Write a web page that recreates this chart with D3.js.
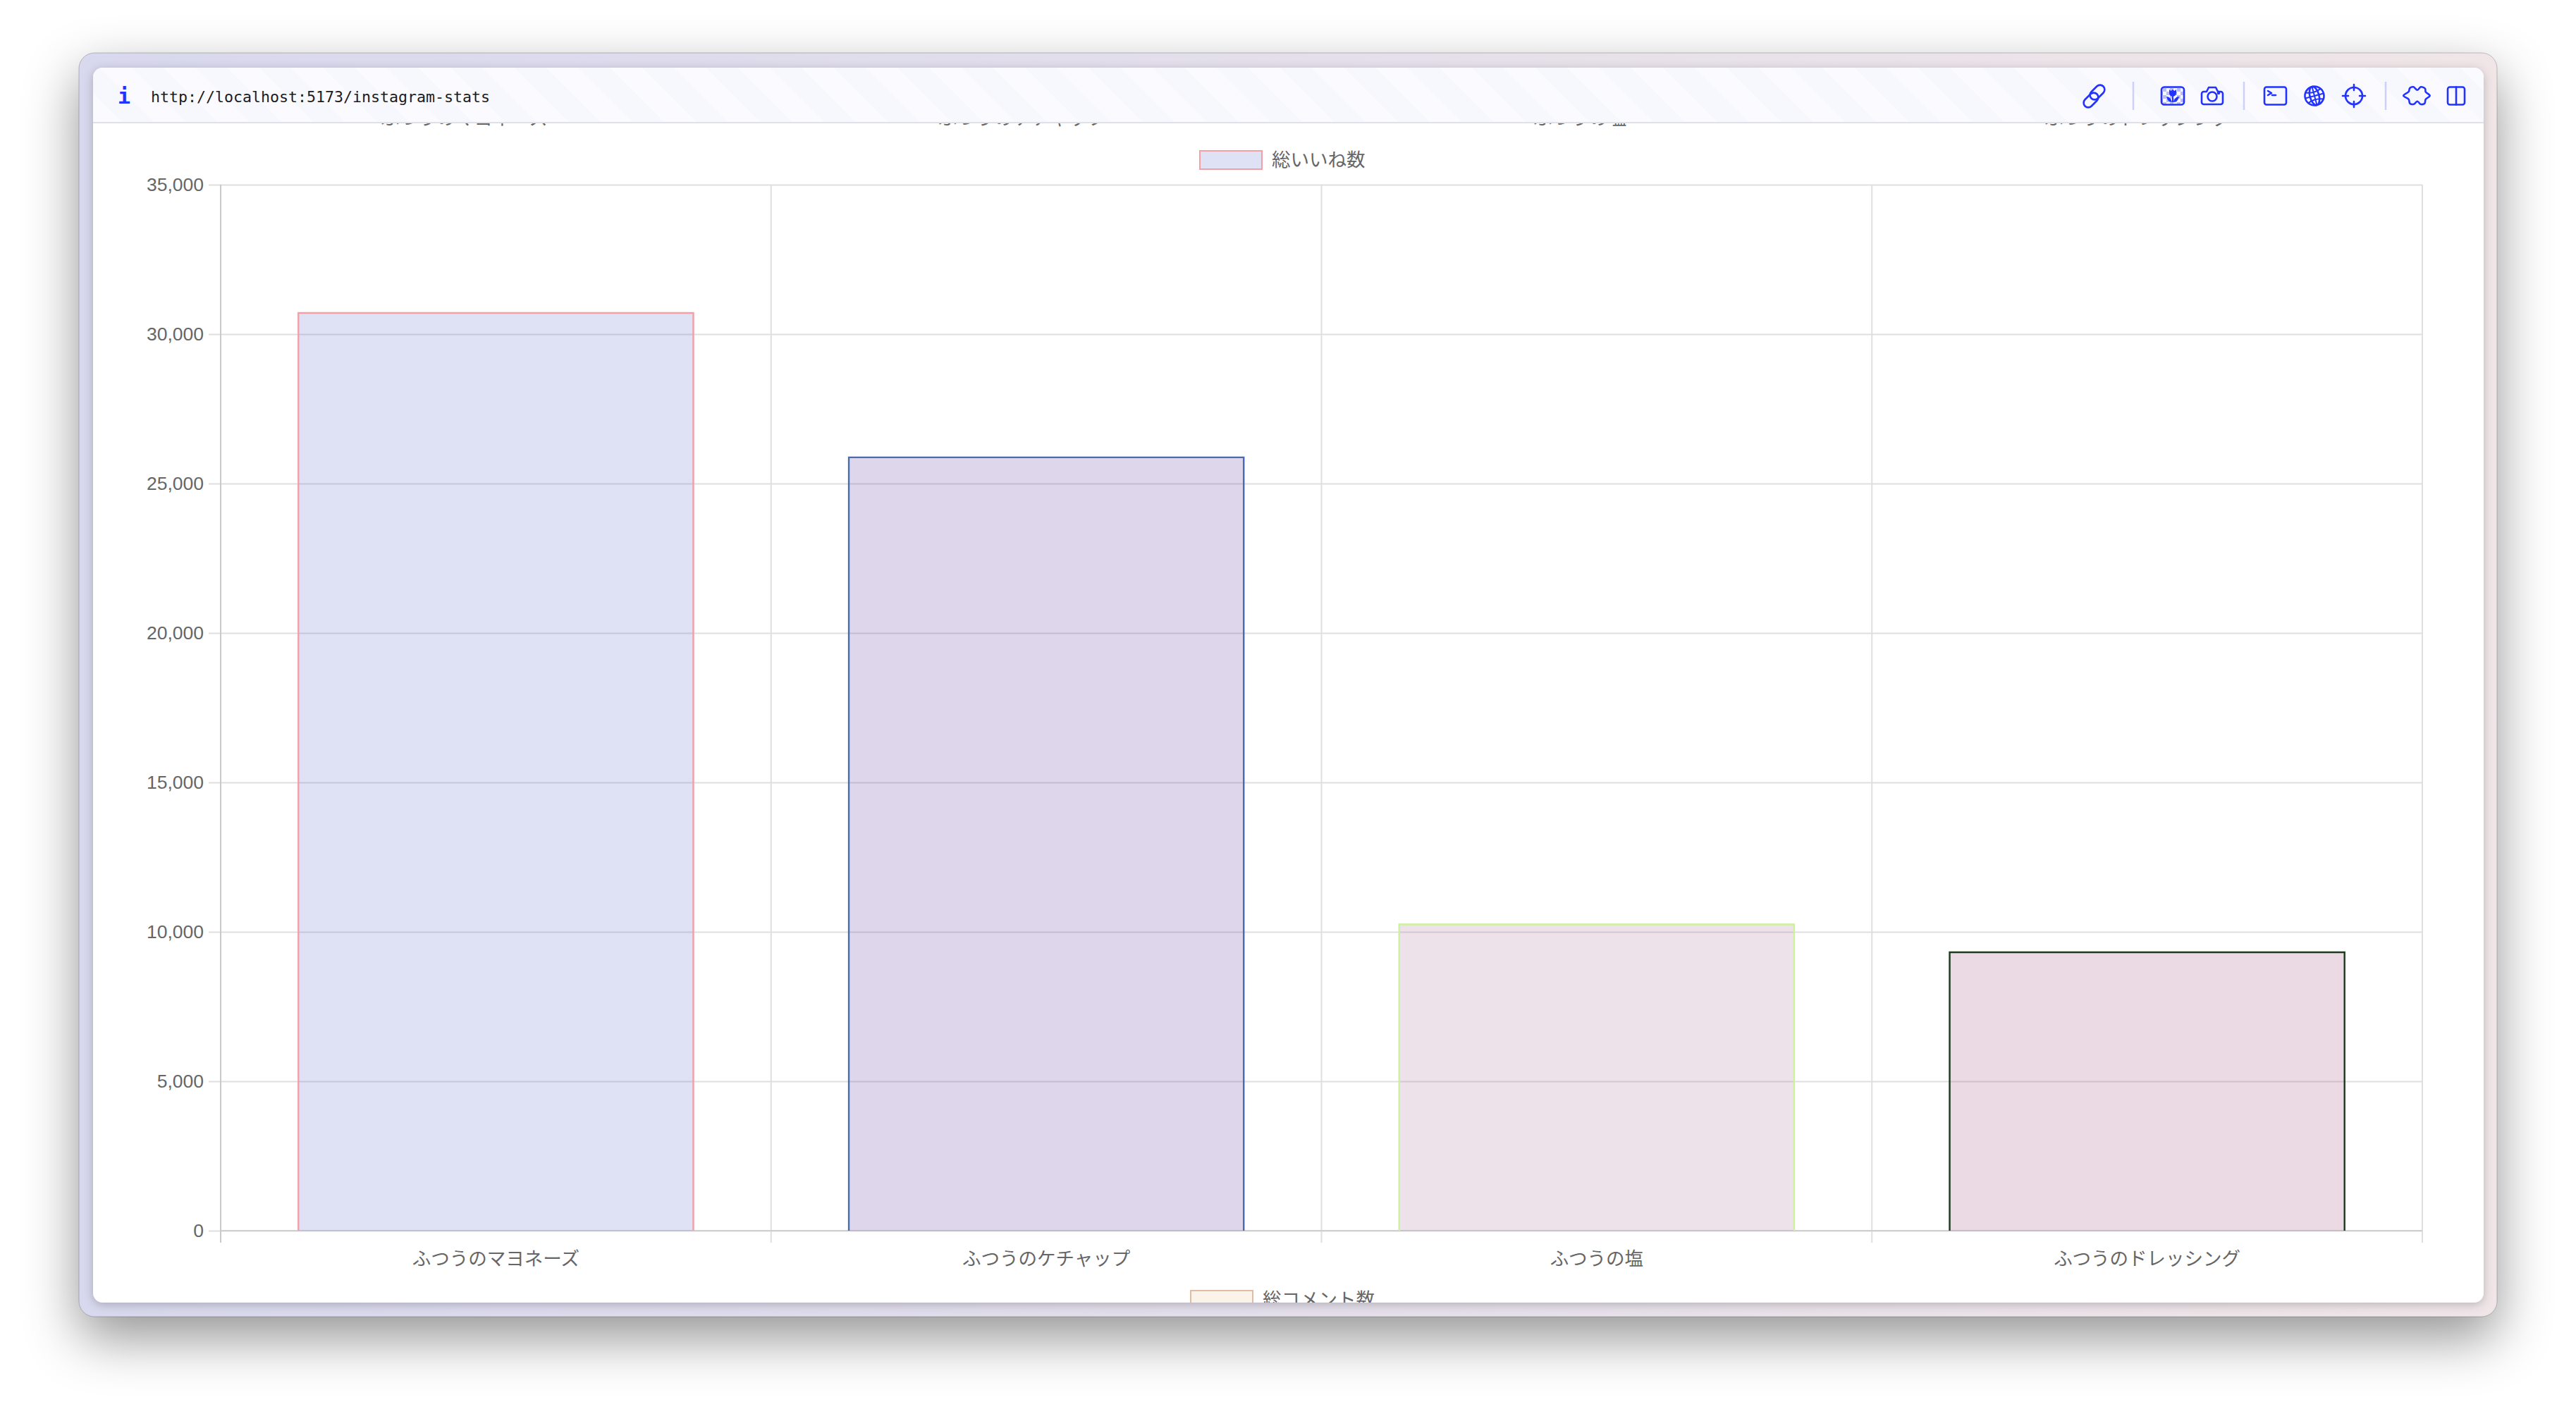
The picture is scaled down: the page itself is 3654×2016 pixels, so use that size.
<!DOCTYPE html>
<html lang="ja">
<head>
<meta charset="utf-8">
<title>instagram-stats</title>
<script src="https://cdn.jsdelivr.net/npm/d3@7"></script>
<style>
  html, body { margin: 0; padding: 0; background: #fff; overflow: hidden; }
  text { font-family: "Liberation Sans", "Noto Sans CJK JP", sans-serif; font-size: 26px; fill: #666; }
  .url { font-family: "DejaVu Sans Mono", monospace; font-size: 21.6px; fill: #1c1c20; }
  .info { font-family: "DejaVu Sans Mono", monospace; font-size: 30px; font-weight: bold; fill: #2233ff; }
  .icon { fill: none; stroke: #2233ff; stroke-width: 2.6; stroke-linecap: round; stroke-linejoin: round; }
</style>
</head>
<body>
<div id="chart-area"></div>
<script>
var categories = ['ふつうのマヨネーズ', 'ふつうのケチャップ', 'ふつうの塩', 'ふつうのドレッシング']
var totalLikes = [30730, 25900, 10270, 9340]
var yTicks = [0, 5000, 10000, 15000, 20000, 25000, 30000, 35000]
var likesLabel = '総いいね数'
var commentsLabel = '総コメント数'
var pageUrl = 'http://localhost:5173/instagram-stats'

var barFills = ['rgba(95,105,200,.2)', 'rgba(90,50,150,.2)', 'rgba(170,110,150,.2)', 'rgba(155,65,120,.2)']
var barStrokes = ['#f2a0a8', '#4a6bae', '#ccf29a', '#1b3a1e']

var margin = { top: 262, left: 313, bottom: 270, right: 218 }
var width = 3654 - margin.left - margin.right
var height = 2016 - margin.top - margin.bottom

var svg = d3.select('#chart-area').append('svg')
  .attr('width', 3654)
  .attr('height', 2016)
  .style('display', 'block')

var defs = svg.append('defs')

var frameGrad = defs.append('linearGradient').attr('id', 'frame-grad')
frameGrad.append('stop').attr('offset', 0).attr('stop-color', '#d8d8ee')
frameGrad.append('stop').attr('offset', 1).attr('stop-color', '#f0e6e8')

var outerShadow = defs.append('filter').attr('id', 'outer-shadow')
  .attr('x', '-10%').attr('y', '-15%').attr('width', '120%').attr('height', '130%')
outerShadow.append('feDropShadow')
  .attr('dx', 0).attr('dy', 30).attr('stdDeviation', 38)
  .attr('flood-color', '#000').attr('flood-opacity', .42)

var panelShadow = defs.append('filter').attr('id', 'panel-shadow')
  .attr('x', '-2%').attr('y', '-2%').attr('width', '104%').attr('height', '104%')
panelShadow.append('feDropShadow')
  .attr('dx', 0).attr('dy', 3).attr('stdDeviation', 7)
  .attr('flood-color', '#000').attr('flood-opacity', .22)

defs.append('clipPath').attr('id', 'panel-clip')
  .append('rect').attr('x', 132).attr('y', 96).attr('width', 3391).attr('height', 1752).attr('rx', 14)

var stripes = defs.append('pattern').attr('id', 'stripes')
  .attr('patternUnits', 'userSpaceOnUse')
  .attr('width', 64).attr('height', 64)
  .attr('patternTransform', 'rotate(45)')
stripes.append('rect').attr('width', 64).attr('height', 64).attr('fill', '#f7f8fe')
stripes.append('rect').attr('width', 64).attr('height', 32).attr('fill', '#fbfbff')

var checker = defs.append('pattern').attr('id', 'checker')
  .attr('patternUnits', 'userSpaceOnUse')
  .attr('x', 3068).attr('y', 125)
  .attr('width', 10).attr('height', 10)
checker.append('rect').attr('width', 5).attr('height', 5).attr('fill', '#b9bdfa')
checker.append('rect').attr('x', 5).attr('y', 5).attr('width', 5).attr('height', 5).attr('fill', '#b9bdfa')

// window frame
svg.append('rect')
  .attr('x', 112).attr('y', 75).attr('width', 3430).attr('height', 1793).attr('rx', 22)
  .attr('fill', 'url(#frame-grad)')
  .attr('stroke', 'rgba(0,0,0,.22)')
  .attr('filter', 'url(#outer-shadow)')

svg.append('rect')
  .attr('x', 132).attr('y', 96).attr('width', 3391).attr('height', 1752).attr('rx', 14)
  .attr('fill', '#fff')
  .attr('filter', 'url(#panel-shadow)')

var panel = svg.append('g').attr('clip-path', 'url(#panel-clip)')

// labels of the chart scrolled away above, only their feet show under the toolbar
var prevX = d3.scaleBand().domain(categories).range([263, 3428])

panel.selectAll('.prev-label').data(categories).enter().append('text')
  .attr('class', 'prev-label')
  .attr('x', d => prevX(d) + prevX.bandwidth() / 2)
  .attr('y', 177)
  .attr('text-anchor', 'middle')
  .style('font-size', '26.5px')
  .text(d => d)

// toolbar
panel.append('rect').attr('x', 132).attr('y', 96).attr('width', 3391).attr('height', 77).attr('fill', 'url(#stripes)')
panel.append('rect').attr('x', 132).attr('y', 173).attr('width', 3391).attr('height', 2).attr('fill', '#e0e0e8')
panel.append('text').attr('class', 'info').attr('x', 167).attr('y', 147).text('i')
panel.append('text').attr('class', 'url').attr('x', 214).attr('y', 145).text(pageUrl)

panel.selectAll('.sep').data([3026, 3183, 3384]).enter().append('line')
  .attr('class', 'sep')
  .attr('x1', d => d).attr('x2', d => d)
  .attr('y1', 116).attr('y2', 156)
  .attr('stroke', '#cdd0fa').attr('stroke-width', 2.5)

var icons = panel.append('g').attr('class', 'icon')

// link
icons.append('rect').attr('x', -12).attr('y', -6.5).attr('width', 24).attr('height', 13).attr('rx', 6.5)
  .attr('transform', 'translate(2975,131) rotate(-45)')
icons.append('rect').attr('x', -12).attr('y', -6.5).attr('width', 24).attr('height', 13).attr('rx', 6.5)
  .attr('transform', 'translate(2966,142) rotate(-45)')

// image
icons.append('rect').attr('x', 3066).attr('y', 123.5).attr('width', 32).attr('height', 25).attr('rx', 4)
  .style('fill', 'url(#checker)')
icons.append('path')
  .attr('d', 'M3077 127l2.5 2 2.5-2 2.5 2 2.5-2v5a5 5 0 0 1-10 0zM3081 136h2v9h-2zM3073 137c4 0 7 3 8 8c-4 0-7-3-8-8zM3091 137c-4 0-7 3-8 8c4 0 7-3 8-8z')
  .style('fill', '#2233ff').style('stroke', 'none')

// camera
icons.append('path').attr('d', 'M3126 130h4l3-6h10l3 6h4a3 3 0 0 1 3 3v12a3 3 0 0 1-3 3h-24a3 3 0 0 1-3-3v-12a3 3 0 0 1 3-3z')
icons.append('circle').attr('cx', 3138).attr('cy', 137).attr('r', 6.5)
icons.append('circle').attr('cx', 3147).attr('cy', 132).attr('r', 1).style('fill', '#2233ff')

// terminal
icons.append('rect').attr('x', 3212).attr('y', 123.5).attr('width', 31).attr('height', 25).attr('rx', 3)
icons.append('path').attr('d', 'M3217 129l5 3-5 3M3223 135h5')

// globe
var globe = icons.append('g').attr('transform', 'translate(3283,136) rotate(-15)')
globe.append('circle').attr('r', 13.5)
globe.append('ellipse').attr('rx', 6.5).attr('ry', 13.5)
globe.append('path').attr('d', 'M0-13.5V13.5M-13.5 0H13.5M-11-7.5Q0-3 11-7.5M-11 7.5Q0 3 11 7.5').style('stroke-width', 2)

// crosshair
icons.append('circle').attr('cx', 3339).attr('cy', 136).attr('r', 12)
icons.append('path').attr('d', 'M3339 120v8M3339 144v8M3323 136h8M3347 136h8')

// extensions
var puzzlePoints = [[3409.3, 135.7], [3416.7, 130], [3418.3, 125], [3423.3, 123.3], [3429, 127.7], [3434, 123.3],
  [3440, 125.7], [3440.7, 130.3], [3446.7, 135.7], [3440.7, 141], [3439.3, 146.7], [3433.3, 147.7],
  [3429, 143.7], [3424, 147.7], [3418.3, 146.7], [3416.7, 141]]
icons.append('path').attr('d', d3.line().curve(d3.curveCatmullRomClosed)(puzzlePoints))

// split view
icons.append('rect').attr('x', 3472).attr('y', 123.5).attr('width', 24).attr('height', 25).attr('rx', 3)
icons.append('path').attr('d', 'M3484 123.5v25')

// chart
var g = panel.append('g').attr('transform', `translate(${margin.left}, ${margin.top})`)

var x = d3.scaleBand().domain(categories).range([0, width]).paddingInner(.28).paddingOuter(.14)
var y = d3.scaleLinear().domain([0, 35000]).range([height, 0])

var outerPad = x.step() * .14
var xEdges = categories.map(d => x(d) - outerPad).concat([width])

var yAxisCall = d3.axisLeft(y)
  .tickValues(yTicks)
  .tickSize(17)
  .tickPadding(7)
  .tickFormat(d3.format(','))

var yAxisGroup = g.append('g').attr('class', 'y-axis').call(yAxisCall)
yAxisGroup.select('.domain').remove()
yAxisGroup.selectAll('.tick line')
  .attr('x1', width)
  .attr('stroke', '#dfdfdf')
  .attr('stroke-width', 2)
yAxisGroup.selectAll('.tick text').style('font-size', '26.5px').style('font-family', null)

g.selectAll('.x-grid').data(xEdges).enter().append('line')
  .attr('class', 'x-grid')
  .attr('x1', d => d).attr('x2', d => d)
  .attr('y1', 0).attr('y2', height + 17)
  .attr('stroke', (d, i) => i == 0 ? '#cacaca' : '#dfdfdf')
  .attr('stroke-width', 2)

g.append('line')
  .attr('x1', 0).attr('x2', width)
  .attr('y1', y(0)).attr('y2', y(0))
  .attr('stroke', '#cfcfd2').attr('stroke-width', 2)

g.selectAll('.bar').data(categories).enter().append('rect')
  .attr('class', 'bar')
  .attr('x', d => x(d))
  .attr('y', (d, i) => y(totalLikes[i]))
  .attr('width', x.bandwidth())
  .attr('height', (d, i) => height - y(totalLikes[i]))
  .attr('fill', (d, i) => barFills[i])

// border on three sides only, the bottom edge is skipped
g.selectAll('.bar-border').data(categories).enter().append('path')
  .attr('class', 'bar-border')
  .attr('d', (d, i) => {
    var p = d3.path()
    p.moveTo(x(d) + 1, height)
    p.lineTo(x(d) + 1, y(totalLikes[i]) + 1)
    p.lineTo(x(d) + x.bandwidth() - 1, y(totalLikes[i]) + 1)
    p.lineTo(x(d) + x.bandwidth() - 1, height)
    return p.toString()
  })
  .attr('fill', 'none')
  .attr('stroke', (d, i) => barStrokes[i])
  .attr('stroke-width', 2.4)

var xAxisCall = d3.axisBottom(x).tickSize(0).tickPadding(30)
var xAxisGroup = g.append('g').attr('class', 'x-axis').attr('transform', `translate(0, ${height})`).call(xAxisCall)
xAxisGroup.select('.domain').remove()
xAxisGroup.selectAll('.tick text').style('font-size', '26.5px').style('font-family', null)

// legends
function legend(xPos, yPos, label, fill, stroke) {
  panel.append('rect')
    .attr('x', xPos + 1).attr('y', yPos + 1)
    .attr('width', 88).attr('height', 26)
    .attr('fill', fill)
    .attr('stroke', stroke)
    .attr('stroke-width', 2)
  panel.append('text')
    .attr('x', xPos + 103)
    .attr('y', yPos + 23)
    .style('font-size', '26.5px')
    .text(label)
}

legend(1701, 213, likesLabel, 'rgba(95,105,200,.2)', '#f2a0a8')
legend(1688, 1830, commentsLabel, 'rgba(235,190,145,.2)', '#e0bca4')
</script>
</body>
</html>
